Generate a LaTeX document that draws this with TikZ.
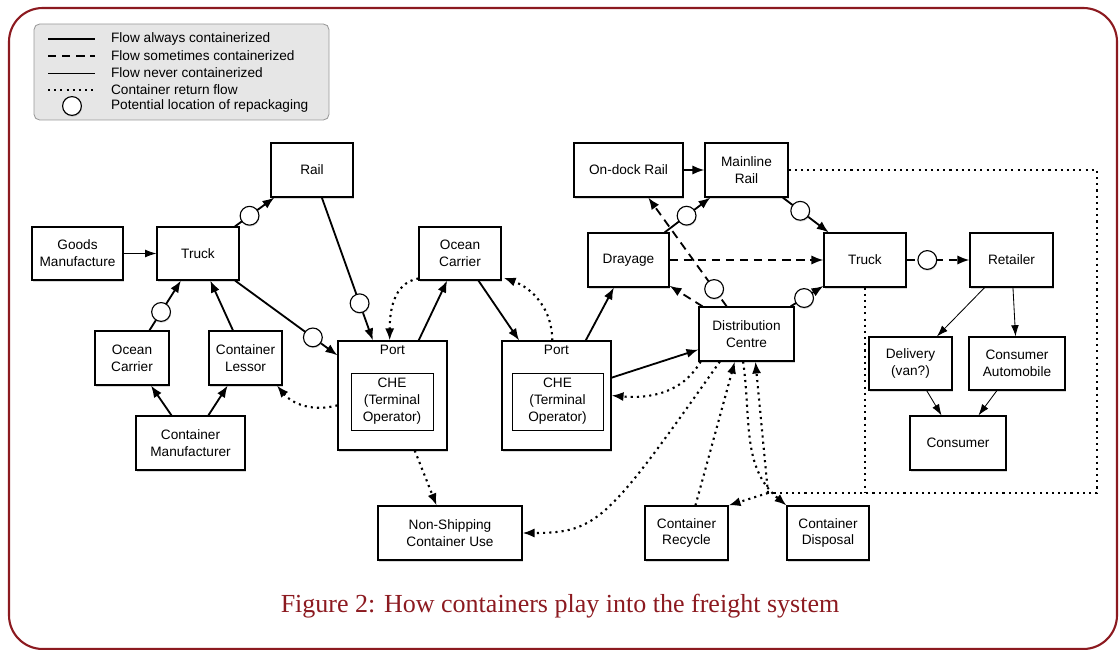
\documentclass[tikz,border=0pt]{standalone}
\usepackage{fontspec}
\setmainfont{Liberation Sans}
\newfontfamily\capfont{Liberation Serif}
\usetikzlibrary{arrows.meta,shadows}
\definecolor{framered}{RGB}{140,26,32}
\definecolor{legendgray}{RGB}{230,230,230}

\begin{document}
\begin{tikzpicture}[x=0.025cm, y=0.025cm,
    wh/.style 2 args={minimum width=#1*0.025cm, minimum height=#2*0.025cm},
    box/.style={draw, solid, line width=0.8pt, fill=white, align=center, inner sep=2pt,
        font=\fontsize{9.7}{12}\selectfont,
        drop shadow={shadow xshift=0.6pt, shadow yshift=-1.4pt, opacity=0.3}},
    inbox/.style={draw, line width=0.6pt, fill=white, align=center, inner sep=2pt,
        font=\fontsize{9.7}{12}\selectfont},
    txt/.style={font=\fontsize{9.7}{12}\selectfont, inner sep=2pt},
    repack/.style={circle, draw, solid, line width=0.8pt, fill=white, minimum size=0.47cm, inner sep=0pt,
        drop shadow={shadow xshift=0.4pt, shadow yshift=-1pt, opacity=0.3}},
    headtip/.style={-{Latex[length=8.5pt,width=6.5pt]}},
    thinhead/.style={-{Latex[length=8pt,width=5.5pt]}},
    lnalways/.style={line width=1.3pt},
    lnsome/.style={line width=1.3pt, dash pattern=on 6pt off 4pt},
    lnnever/.style={line width=0.6pt},
    lnreturn/.style={line width=1.5pt, dash pattern=on 1.5pt off 2.9pt}]
    \useasboundingbox (0,0) rectangle (1120,-650);
    \draw[framered, line width=1.5pt, rounded corners=24pt] (9,-8) rectangle (1117,-649);

    % legend
    \draw[fill=legendgray, draw=gray!80, line width=0.6pt, rounded corners=4pt] (34,-24) rectangle (329,-120);
    \draw[lnalways] (48,-39) -- (95,-39);
    \draw[lnsome] (48,-56) -- (95,-56);
    \draw[lnnever] (48,-73) -- (95,-73);
    \draw[lnreturn] (48,-90) -- (95,-90);
    \node[repack] (legcirc) at (72,-106) {};
    \node[txt, anchor=west] (leg1) at (108,-39) {Flow always containerized};
    \node[txt, anchor=west] (leg2) at (108,-56) {Flow sometimes containerized};
    \node[txt, anchor=west] (leg3) at (108,-73) {Flow never containerized};
    \node[txt, anchor=west] (leg4) at (108,-90) {Container return flow};
    \node[txt, anchor=west] (leg5) at (108,-106) {Potential location of repackaging};

    % boxes
    \node[box, wh={91}{53}] (goods) at (77.5,-253.5) {Goods\\Manufacture};
    \node[box, wh={82}{53}] (truckL) at (198,-253.5) {Truck};
    \node[box, wh={82}{54}] (rail) at (312,-170) {Rail};
    \node[box, wh={74}{54}] (oceanL) at (132,-358) {Ocean\\Carrier};
    \node[box, wh={73}{54}] (lessor) at (245.5,-358) {Container\\Lessor};
    \node[box, wh={109}{54}] (contman) at (190.5,-443) {Container\\Manufacturer};
    \node[box, wh={109}{109}] (portL) at (392.5,-395.5) {};
    \node[txt, anchor=north, inner sep=3pt] (portLlbl) at (portL.north) {Port};
    \node[inbox, wh={82}{57}] (cheL) at (392,-401.5) {CHE\\(Terminal\\Operator)};
    \node[box, wh={82}{53}] (oceanM) at (460,-253.5) {Ocean\\Carrier};
    \node[box, wh={109}{109}] (portR) at (556.5,-395.5) {};
    \node[txt, anchor=north, inner sep=3pt] (portRlbl) at (portR.north) {Port};
    \node[inbox, wh={91}{57}] (cheR) at (557.5,-401.5) {CHE\\(Terminal\\Operator)};
    \node[box, wh={109}{54}] (ondock) at (628.5,-170) {On-dock Rail};
    \node[box, wh={83}{54}] (mainline) at (746.5,-170) {Mainline\\Rail};
    \node[box, wh={81}{54}] (drayage) at (628.5,-260) {Drayage};
    \node[box, wh={95}{54}] (distc) at (746.5,-334) {Distribution\\Centre};
    \node[box, wh={82}{54}] (truckR) at (865,-260) {Truck};
    \node[box, wh={83}{54}] (retailer) at (1011.5,-260) {Retailer};
    \node[box, wh={83}{53}] (delivery) at (910.5,-363.5) {Delivery\\(van?)};
    \node[box, wh={96}{53}] (consauto) at (1017,-363.5) {Consumer\\Automobile};
    \node[box, wh={96}{54}] (consumer) at (958,-443) {Consumer};
    \node[box, wh={144}{54}] (nonship) at (450,-533) {Non-Shipping\\Container Use};
    \node[box, wh={83}{54}] (recycle) at (686.5,-533) {Container\\Recycle};
    \node[box, wh={82}{54}] (disposal) at (828,-533) {Container\\Disposal};

    \coordinate (loopNE) at (1097,-170);
    \coordinate (loopSE) at (1097,-493);
    \coordinate (jct) at (768,-493);

    % container return flow
    \draw[lnreturn] (mainline.east) -- (loopNE) -- (loopSE) -- (jct);
    \draw[lnreturn] (truckR.south) -- (truckR.south |- jct);
    \draw[lnreturn, headtip] (jct) -- (distc.-72);
    \draw[lnreturn, headtip] (jct) -- (recycle.north east);
    \draw[lnreturn, headtip] (recycle.72) -- (distc.-113);
    \draw[lnreturn, headtip] (distc.-97) to[out=-82,in=140] (disposal.north west);
    \draw[lnreturn, headtip] (distc.-134) .. controls (608,-520) and (598,-533) .. (nonship.east);
    \draw[lnreturn, headtip] (distc.-149) to[out=-120,in=-5] (portR.east);
    \draw[lnreturn, headtip] (portL.-68) -- (nonship.116);
    \draw[lnreturn, headtip] ([yshift=-7pt]portL.west) to[out=195,in=-50] ([xshift=-4pt]lessor.south east);
    \draw[lnreturn, headtip] ([yshift=1.5pt]oceanM.south west) to[out=190,in=90] ([xshift=-2pt]portL.north);
    \draw[lnreturn, headtip] ([xshift=-3pt]portR.north) to[out=90,in=-20] ([xshift=1.5pt,yshift=2pt]oceanM.south east);

    % flows
    \draw[lnnever, thinhead] (goods) -- (truckL);
    \draw[lnalways, headtip] (truckL) -- node[repack, pos=0.37]{} (rail);
    \draw[lnalways, headtip] (rail) -- node[repack, pos=0.74]{} (portL);
    \draw[lnalways, headtip] (truckL) -- node[repack, pos=0.76]{} (portL);
    \draw[lnalways, headtip] (oceanL) -- node[repack, pos=0.37]{} (truckL);
    \draw[lnalways, headtip] (lessor) -- (truckL);
    \draw[lnalways, headtip] (contman) -- (oceanL);
    \draw[lnalways, headtip] (contman) -- (lessor);
    \draw[lnalways, headtip] (portL) -- (oceanM);
    \draw[lnalways, headtip] (oceanM) -- (portR);
    \draw[lnalways, headtip] (portR) -- (drayage);
    \draw[lnalways, headtip] (portR) -- (distc);
    \draw[lnalways, headtip] (ondock) -- (mainline);
    \draw[lnalways, headtip] (drayage) -- node[repack, pos=0.48]{} (mainline);
    \draw[lnalways, headtip] (mainline) -- node[repack, pos=0.38]{} (truckR);
    \draw[lnalways, headtip] (distc) -- node[repack, pos=0.41]{} (truckR);
    \draw[lnsome, headtip] (drayage) -- (truckR);
    \draw[lnsome, headtip] (distc) -- node[repack, pos=0.16]{} (ondock);
    \draw[lnsome, headtip] (distc) -- (drayage);
    \draw[lnsome, headtip] (truckR) -- node[repack, pos=0.33]{} (retailer);
    \draw[lnnever, thinhead] (retailer) -- (delivery);
    \draw[lnnever, thinhead] (retailer) -- (consauto);
    \draw[lnnever, thinhead] (delivery) -- (consumer);
    \draw[lnnever, thinhead] (consauto) -- (consumer);

    \node[font=\capfont\fontsize{18.5}{22}\selectfont, text=framered] (caption) at (560,-606)
        {Figure 2: How containers play into the freight system};
\end{tikzpicture}
\end{document}
